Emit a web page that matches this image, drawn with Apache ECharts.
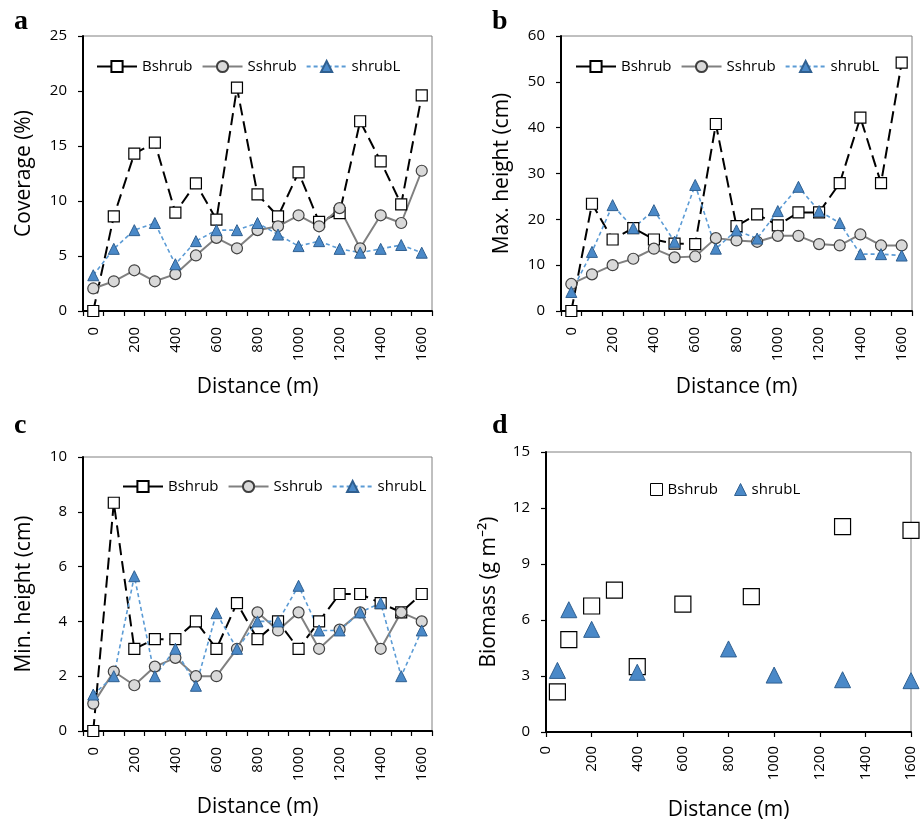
<!DOCTYPE html>
<html><head><meta charset="utf-8">
<script src="https://cdn.jsdelivr.net/npm/echarts@6/dist/echarts.min.js"></script>
<style>html,body{margin:0;padding:0;background:#fff}#c{width:921px;height:824px}</style>
</head><body><div id="c"></div>
<script>
// ---- data ----
const distances = ['0','100','200','300','400','500','600','700','800','900','1000','1100','1200','1300','1400','1500','1600'];
const seriesNames = ['Bshrub','Sshrub','shrubL'];

const coverBshrub = [0, 8.6, 14.3, 15.3, 8.95, 11.6, 8.3, 20.3, 10.6, 8.6, 12.6, 8.1, 8.9, 17.25, 13.6, 9.7, 19.6];
const coverSshrub = [2.05, 2.7, 3.7, 2.7, 3.35, 5.05, 6.65, 5.7, 7.35, 7.7, 8.7, 7.7, 9.35, 5.7, 8.7, 8.0, 12.75];
const coverShrubL = [3.25, 5.65, 7.35, 8.0, 4.25, 6.35, 7.35, 7.35, 8.0, 6.95, 5.9, 6.35, 5.65, 5.3, 5.65, 6.0, 5.3];

const maxHBshrub = [0, 23.4, 15.6, 18.1, 15.6, 14.7, 14.6, 40.8, 18.5, 21.1, 18.7, 21.5, 21.5, 27.9, 42.2, 27.9, 54.2];
const maxHSshrub = [5.9, 8.0, 10.0, 11.4, 13.6, 11.7, 11.9, 15.9, 15.4, 15.1, 16.4, 16.4, 14.6, 14.3, 16.7, 14.3, 14.3];
const maxHShrubL = [4.15, 12.9, 23.1, 18.1, 22.0, 15.1, 27.5, 13.6, 17.6, 15.8, 21.8, 27.1, 21.8, 19.2, 12.4, 12.4, 12.1];

const minHBshrub = [0, 8.33, 3.0, 3.35, 3.35, 4.0, 3.0, 4.67, 3.35, 4.0, 3.0, 4.0, 5.0, 5.0, 4.67, 4.33, 5.0];
const minHSshrub = [1.0, 2.17, 1.67, 2.35, 2.67, 2.0, 2.0, 3.0, 4.33, 3.67, 4.33, 3.0, 3.7, 4.33, 3.0, 4.33, 4.0];
const minHShrubL = [1.33, 2.0, 5.65, 2.0, 3.0, 1.65, 4.3, 3.0, 4.0, 4.0, 5.3, 3.67, 3.67, 4.33, 4.67, 2.0, 3.67];

const bioBshrubX = [50, 100, 200, 300, 400, 600, 900, 1300, 1600];
const bioBshrubY = [2.15, 4.95, 6.75, 7.6, 3.5, 6.85, 7.25, 11.0, 10.8];
const bioShrubLX = [50, 100, 200, 400, 800, 1000, 1300, 1600];
const bioShrubLY = [3.3, 6.55, 5.5, 3.2, 4.45, 3.05, 2.8, 2.75];

const panelLetters = ['a','b','c','d'];
const yTitles = ['Coverage (%)', 'Max. height (cm)', 'Min. height (cm)', 'Biomass (g m\u207B\u00B2)'];
const xTitle = 'Distance (m)';

// ---- styles ----
const FONT = 'Open Sans';
const grids = [
  {left: 83, top: 36, width: 349, height: 275},
  {left: 561, top: 36, width: 351, height: 275},
  {left: 83, top: 457, width: 349, height: 274},
  {left: 546, top: 452, width: 365, height: 280}
];
const yRanges = [[0,25,5],[0,60,10],[0,10,2],[0,15,3]];

const BLUE = '#4a89c8', BLUE_EDGE = '#2f5f90';
const styleB = {
  symbol: 'rect', symbolSize: 11,
  itemStyle: {color: '#ffffff', borderColor: '#000000', borderWidth: 1.2, opacity: 1},
  lineStyle: {color: '#000000', width: 2, type: [12, 6]}
};
const styleS = {
  symbol: 'circle', symbolSize: 11,
  itemStyle: {color: '#d9d9d9', borderColor: '#404040', borderWidth: 1.2, opacity: 1},
  lineStyle: {color: '#808080', width: 2, type: 'solid'}
};
const styleL = {
  symbol: 'triangle', symbolSize: 11,
  itemStyle: {color: BLUE, borderColor: BLUE_EDGE, borderWidth: 1, opacity: 1},
  lineStyle: {color: '#5b9bd5', width: 1.6, type: [4, 3]}
};

const grid = grids.map(g => Object.assign({show: true, borderColor: '#808080', borderWidth: 1, backgroundColor: 'transparent'}, g));

const axisLineStyle = {show: true, onZero: false, lineStyle: {color: '#000', width: 2}};
const labelStyle = {color: '#000', fontSize: 15, fontFamily: FONT};
const nameStyle = {color: '#000', fontSize: 21, fontFamily: FONT};

const xAxis = [0,1,2].map(i => ({
  type: 'category', gridIndex: i, data: distances, boundaryGap: true,
  axisLine: axisLineStyle,
  axisTick: {show: true, interval: 0, length: 5, lineStyle: {color: '#000', width: 1.2}},
  axisLabel: Object.assign({interval: 1, rotate: 90, margin: 16}, labelStyle),
  name: xTitle, nameLocation: 'middle', nameGap: 66, nameTextStyle: nameStyle,
  splitLine: {show: false}
}));
xAxis.push({
  type: 'value', gridIndex: 3, min: 0, max: 1600, interval: 200,
  axisLine: axisLineStyle,
  axisTick: {show: true, length: 5, lineStyle: {color: '#000', width: 1.2}},
  axisLabel: Object.assign({rotate: 90, margin: 14, formatter: v => String(v)}, labelStyle),
  name: xTitle, nameLocation: 'middle', nameGap: 68, nameTextStyle: nameStyle,
  splitLine: {show: false}
});

const yAxis = yRanges.map((r, i) => ({
  type: 'value', gridIndex: i, min: r[0], max: r[1], interval: r[2],
  axisLine: axisLineStyle,
  axisTick: {show: true, length: 5, lineStyle: {color: '#000', width: 1.2}},
  axisLabel: Object.assign({margin: 16}, labelStyle),
  name: yTitles[i], nameLocation: 'middle', nameGap: i === 3 ? 46 : 48, nameTextStyle: nameStyle,
  splitLine: {show: false}
}));

function lineSeries(name, data, st, gi) {
  return Object.assign({type: 'line', name: name, data: data, xAxisIndex: gi, yAxisIndex: gi, clip: false, animation: false}, JSON.parse(JSON.stringify(st)));
}
const series = [];
[[coverBshrub, coverSshrub, coverShrubL],[maxHBshrub, maxHSshrub, maxHShrubL],[minHBshrub, minHSshrub, minHShrubL]].forEach((set, gi) => {
  series.push(lineSeries('Bshrub', set[0], styleB, gi));
  series.push(lineSeries('Sshrub', set[1], styleS, gi));
  series.push(lineSeries('shrubL', set[2], styleL, gi));
});
series.push({
  type: 'scatter', name: 'Bshrub', xAxisIndex: 3, yAxisIndex: 3, clip: false, animation: false,
  symbol: 'rect', symbolSize: 16,
  itemStyle: {color: '#fff', borderColor: '#000', borderWidth: 1.2, opacity: 1},
  data: bioBshrubX.map((x, k) => [x, bioBshrubY[k]])
});
series.push({
  type: 'scatter', name: 'shrubL', xAxisIndex: 3, yAxisIndex: 3, clip: false, animation: false,
  symbol: 'triangle', symbolSize: 16,
  itemStyle: {color: BLUE, borderColor: BLUE_EDGE, borderWidth: 1, opacity: 1},
  data: bioShrubLX.map((x, k) => [x, bioShrubLY[k]])
});

const legendText = {color: '#000', fontSize: 15, fontFamily: FONT};
function lineLegend(left, top) {
  return {
    left: left, top: top, itemWidth: 40, itemHeight: 14, itemGap: 9, orient: 'horizontal',
    textStyle: legendText, selectedMode: false,
    data: [
      {name: 'Bshrub', lineStyle: {type: 'solid'}},
      {name: 'Sshrub'},
      {name: 'shrubL'}
    ]
  };
}
const legend = [
  lineLegend(91, 54),
  lineLegend(570, 54),
  lineLegend(117, 474),
  {
    left: 645, top: 477, itemWidth: 12, itemHeight: 12, itemGap: 16,
    textStyle: legendText, selectedMode: false,
    data: [
      {name: 'Bshrub', icon: 'rect', itemStyle: {color: '#fff', borderColor: '#000', borderWidth: 1, opacity: 1}},
      {name: 'shrubL', icon: 'triangle', itemStyle: {color: BLUE, borderColor: BLUE_EDGE, borderWidth: 1, opacity: 1}}
    ]
  }
];

const letterPos = [[14, 8], [492, 8], [14, 412], [492, 412]];
const graphic = panelLetters.map((t, i) => ({
  type: 'text', left: letterPos[i][0], top: letterPos[i][1],
  style: {text: t, fontSize: 28, fontWeight: 'bold', fontFamily: 'Liberation Serif', fill: '#000'}
}));

const chart = echarts.init(document.getElementById('c'), null, {renderer: 'canvas'});
chart.setOption({
  animation: false,
  backgroundColor: '#fff',
  grid: grid, xAxis: xAxis, yAxis: yAxis, series: series, legend: legend, graphic: graphic
});
</script></body></html>
